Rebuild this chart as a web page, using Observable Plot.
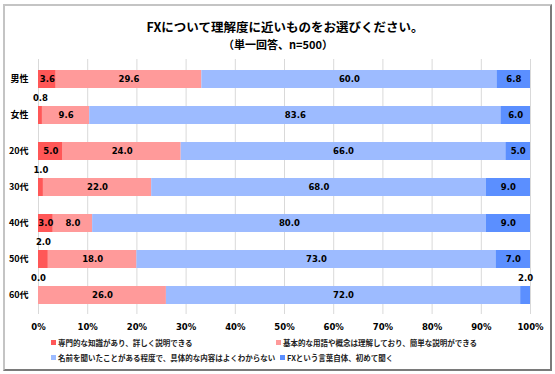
<!DOCTYPE html>
<html>
<head>
<meta charset="utf-8">
<script src="https://cdn.jsdelivr.net/npm/d3@7"></script>
<script src="https://cdn.jsdelivr.net/npm/@observablehq/plot@0.6"></script>
<style>
  html, body { margin: 0; padding: 0; background: #fff; }
  #wrap { position: relative; width: 555px; height: 374px; overflow: hidden; font-family: "Noto Sans CJK JP", "DejaVu Sans", sans-serif; }
  #frame { position: absolute; left: 3px; top: 4px; width: 545px; height: 363px; border-top: 2px solid #c4c4c4; border-left: 2px solid #c4c4c4; border-right: 2px solid #7a7a7a; border-bottom: 2px solid #7a7a7a; }
  #title { position: absolute; top: 18px; left: 0; width: 570px; text-align: center; font-size: 12.5px; font-weight: bold; color: #000; line-height: 18px; }
  #subtitle { position: absolute; top: 36px; left: 0; width: 556px; text-align: center; font-size: 11px; font-weight: bold; color: #000; line-height: 16px; }
  #chart { position: absolute; left: 0; top: 0; }
  .lg { position: absolute; font-size: 7.5px; font-weight: bold; color: #222; line-height: 10px; white-space: nowrap; }
  .lg i { display: inline-block; width: 5px; height: 5px; margin-right: 2px; vertical-align: 1px; }
</style>
</head>
<body>
<div id="wrap">
  <div id="frame"></div>
  <div id="chart"></div>
  <div id="title">FXについて理解度に近いものをお選びください。</div>
  <div id="subtitle">（単一回答、n=500）</div>
  <div id="legend"></div>
</div>
<script>
const categories = ["男性", "女性", "20代", "30代", "40代", "50代", "60代"];
const seriesNames = [
  "専門的な知識があり、詳しく説明できる",
  "基本的な用語や概念は理解しており、簡単な説明ができる",
  "名前を聞いたことがある程度で、具体的な内容はよくわからない",
  "FXという言葉自体、初めて聞く"
];
const expert = [3.6, 0.8, 5.0, 1.0, 3.0, 2.0, 0.0];
const basic = [29.6, 9.6, 24.0, 22.0, 8.0, 18.0, 26.0];
const heard = [60.0, 83.6, 66.0, 68.0, 80.0, 73.0, 72.0];
const first = [6.8, 6.0, 5.0, 9.0, 9.0, 7.0, 2.0];
const xTicks = [0, 10, 20, 30, 40, 50, 60, 70, 80, 90, 100];
const colors = ["#ff5757", "#ff9a9a", "#9dbbff", "#5b8fff"];

const seriesValues = [expert, basic, heard, first];
const rows = [];
categories.forEach((cat, i) => {
  let acc = 0;
  seriesValues.forEach((vals, s) => {
    const v = vals[i];
    rows.push({cat, series: seriesNames[s], value: v, x1: acc, x2: acc + v, mid: acc + v / 2});
    acc += v;
  });
});
const inside = rows.filter(d => d.value > 2.5);
const outside = rows.filter(d => d.value <= 2.5);

const numFont = "'DejaVu Sans', 'Noto Sans CJK JP', sans-serif";

const chart = Plot.plot({
  width: 555,
  height: 340,
  marginTop: 59,
  marginBottom: 26,
  marginLeft: 38,
  marginRight: 25,
  style: {fontFamily: numFont, fontSize: "8.5px", fontWeight: "bold", color: "#000", background: "transparent", overflow: "visible"},
  x: {domain: [0, 100], ticks: xTicks},
  y: {domain: categories, paddingInner: 0.5, paddingOuter: 0.25},
  color: {domain: seriesNames, range: colors},
  marks: [
    Plot.ruleX(xTicks, {stroke: "#d9d9d9", strokeWidth: 1}),
    Plot.barX(rows, {x1: "x1", x2: "x2", y: "cat", fill: "series"}),
    Plot.text(inside, {x: "mid", y: "cat", text: d => d.value.toFixed(1), fill: "#000", fontWeight: "bold", fontSize: 8.5}),
    Plot.text(outside, {x: "mid", y: "cat", text: d => d.value.toFixed(1), fill: "#000", fontWeight: "bold", fontSize: 8.5, dy: -17}),
    Plot.axisX({ticks: xTicks, tickFormat: d => d + "%", tickSize: 0, tickPadding: 9, fontSize: 8.5, fontWeight: "bold", label: null}),
    Plot.axisY({tickSize: 0, tickPadding: 10, fontSize: 9, fontWeight: "bold", label: null, fontFamily: "'Noto Sans CJK JP', sans-serif"})
  ]
});
document.getElementById("chart").appendChild(chart);

const legendPos = [
  {x: 51, y: 338},
  {x: 276, y: 338},
  {x: 51, y: 353},
  {x: 280, y: 353}
];
const legend = document.getElementById("legend");
seriesNames.forEach((name, i) => {
  const el = document.createElement("div");
  el.className = "lg";
  el.style.left = legendPos[i].x + "px";
  el.style.top = legendPos[i].y + "px";
  el.innerHTML = `<i style="background:${colors[i]}"></i>${name}`;
  legend.appendChild(el);
});
</script>
</body>
</html>
